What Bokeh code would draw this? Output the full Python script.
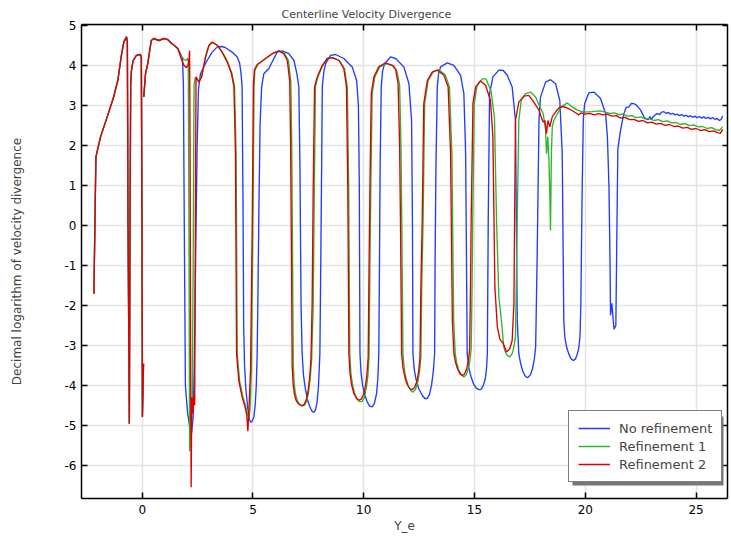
import numpy as np
from bokeh.plotting import figure
from bokeh.models import LinearAxis, FixedTicker, BoxAnnotation, Range1d
from bokeh.embed import file_html
from bokeh.resources import INLINE

# ---------------- data, (Y_e, log10 div) ----------------
nan = float("nan")

# part common to all three series
shared_pts = [(-2.18, -1.71), (-2.09, 1.71), (-1.88, 2.21), (-1.58, 2.71), (-1.31, 3.17),
              (-1.10, 3.62), (-0.95, 4.21), (-0.83, 4.58), (-0.71, 4.71), (-0.67, 4.60),
              (-0.64, 0.0), (-0.58, -4.96), (-0.55, 0.0), (-0.52, 3.50), (-0.49, 3.85),
              (-0.41, 4.12), (-0.26, 4.25), (-0.08, 4.27), (-0.04, 4.20), (-0.01, 0.0),
              (0.01, -4.79), (0.06, -3.46), (nan, nan), (0.07, 3.21), (0.15, 3.79),
              (0.25, 4.04), (0.33, 4.33), (0.41, 4.62), (0.52, 4.67), (0.75, 4.62),
              (0.98, 4.67), (1.16, 4.64), (1.35, 4.54), (1.61, 4.42)]

# No refinement
blue_pts = [(1.73, 4.29), (1.82, 4.15), (1.86, 3.5), (1.90, 0.0), (1.95, -4.0), (2.05, -4.7),
            (2.15, -5.05), (2.23, -5.2), (2.30, -4.8), (2.35, -3.5), (2.42, -0.5), (2.48, 2.0),
            (2.54, 3.4), (2.63, 3.79), (2.78, 3.96), (2.93, 4.12), (3.16, 4.33), (3.39, 4.46),
            (3.60, 4.47), (3.76, 4.44), (4.06, 4.33), (4.29, 4.21), (4.40, 4.05), (4.46, 3.8),
            (4.51, 3.46), (4.55, 0.6), (4.58, -2.5), (4.62, -3.5), (4.68, -4.1), (4.76, -4.55),
            (4.83, -4.82), (4.89, -4.92), (4.96, -4.9), (5.04, -4.79), (5.10, -4.5),
            (5.15, -4.0), (5.19, -3.21), (5.23, -1.5), (5.27, 0.5), (5.32, 2.5), (5.39, 3.46),
            (5.49, 3.79), (5.72, 3.92), (5.90, 4.12), (6.09, 4.33), (6.32, 4.36), (6.62, 4.29),
            (6.85, 4.12), (6.98, 3.8), (7.07, 3.46), (7.12, 1.5), (7.17, -2.0), (7.22, -3.21),
            (7.28, -3.75), (7.37, -4.1), (7.48, -4.4), (7.60, -4.58), (7.68, -4.66),
            (7.75, -4.68), (7.83, -4.6), (7.90, -4.4), (7.96, -4.0), (8.02, -3.21),
            (8.06, -1.0), (8.10, 1.5), (8.13, 3.46), (8.20, 3.85), (8.28, 4.04), (8.50, 4.25),
            (8.73, 4.27), (9.10, 4.17), (9.48, 3.96), (9.68, 3.62), (9.76, 3.0), (9.80, 1.0),
            (9.83, -3.21), (9.88, -3.7), (9.95, -4.0), (10.05, -4.25), (10.16, -4.42),
            (10.27, -4.52), (10.38, -4.54), (10.48, -4.45), (10.58, -4.21), (10.64, -3.8),
            (10.68, -3.21), (10.71, -1.0), (10.74, 1.5), (10.79, 3.46), (10.85, 3.85),
            (10.94, 4.04), (11.21, 4.21), (11.44, 4.17), (11.81, 3.96), (12.04, 3.54),
            (12.16, 2.62), (12.20, 0.0), (12.22, -3.21), (12.28, -3.6), (12.36, -3.85),
            (12.48, -4.08), (12.64, -4.25), (12.76, -4.33), (12.87, -4.33), (12.97, -4.22),
            (13.06, -4.0), (13.14, -3.65), (13.20, -3.21), (13.22, -1.0), (13.26, 1.5),
            (13.32, 3.46), (13.38, 3.8), (13.47, 3.96), (13.77, 4.06), (14.07, 4.0),
            (14.37, 3.75), (14.52, 3.29), (14.60, 1.79), (14.64, -1.0), (14.67, -3.21),
            (14.74, -3.55), (14.84, -3.78), (14.95, -3.96), (15.08, -4.07), (15.20, -4.11),
            (15.30, -4.10), (15.40, -4.0), (15.48, -3.85), (15.54, -3.6), (15.58, -3.21),
            (15.60, -1.5), (15.62, 0.13), (15.68, 3.29), (15.83, 3.71), (16.10, 3.88),
            (16.30, 3.87), (16.48, 3.75), (16.70, 3.46), (16.85, 2.62), (16.93, -2.38),
            (17.00, -3.21), (17.08, -3.45), (17.18, -3.65), (17.30, -3.78), (17.40, -3.81),
            (17.52, -3.74), (17.61, -3.6), (17.70, -3.35), (17.76, -3.04), (17.83, -0.71),
            (17.91, 2.62), (17.98, 3.21), (18.21, 3.58), (18.43, 3.64), (18.66, 3.54),
            (18.85, 3.12), (18.96, 1.79), (19.03, -2.38), (19.08, -2.8), (19.16, -3.05),
            (19.26, -3.22), (19.36, -3.34), (19.46, -3.38), (19.56, -3.34), (19.64, -3.22),
            (19.71, -3.05), (19.76, -2.8), (19.80, -2.0), (19.85, 0.5), (19.91, 2.62),
            (19.97, 3.04), (20.16, 3.31), (20.39, 3.33), (20.69, 3.17), (20.92, 2.79),
            (21.00, 2.2), (21.07, 0.96), (21.12, -1.0), (21.14, -2.25), (21.20, -1.95),
            (21.25, -2.3), (21.30, -2.6), (21.38, -2.5), (21.47, 1.9), (21.52, 2.1),
            (21.59, 2.37), (21.74, 2.79), (21.85, 2.95), (21.97, 2.96), (22.08, 3.05),
            (22.19, 3.04), (22.27, 3.02), (22.35, 2.98), (22.50, 2.88), (22.65, 2.71),
            (22.75, 2.66), (22.85, 2.64), (22.92, 2.72), (22.97, 2.64), (23.05, 2.70),
            (23.15, 2.76), (23.25, 2.79), (23.35, 2.77), (23.45, 2.83), (23.55, 2.84),
            (23.65, 2.80), (23.75, 2.82), (23.85, 2.78), (23.95, 2.80), (24.05, 2.76),
            (24.15, 2.78), (24.25, 2.74), (24.35, 2.77), (24.45, 2.73), (24.55, 2.75),
            (24.65, 2.71), (24.75, 2.74), (24.85, 2.70), (24.95, 2.73), (25.05, 2.69),
            (25.15, 2.72), (25.25, 2.68), (25.35, 2.71), (25.45, 2.67), (25.55, 2.70),
            (25.65, 2.66), (25.75, 2.69), (25.85, 2.65), (25.95, 2.67), (26.05, 2.62),
            (26.12, 2.64), (26.20, 2.73)]

# Refinement 1
green_pts = [(1.73, 4.25), (1.88, 4.15), (2.00, 4.12), (2.05, 4.18), (2.08, 4.10), (2.11, 0.0),
             (2.14, -5.65), (2.18, -5.0), (2.22, -4.6), (2.26, -4.4), (2.30, -1.0), (2.34, 3.5),
             (2.40, 3.70), (2.56, 3.60), (2.68, 3.72), (2.86, 4.20), (3.01, 4.48), (3.16, 4.57),
             (3.39, 4.50), (3.61, 4.33), (3.84, 4.10), (4.05, 3.80), (4.17, 3.46), (4.24, 1.79),
             (4.29, -3.21), (4.40, -3.90), (4.55, -4.30), (4.70, -4.60), (4.82, -4.85),
             (4.87, -4.60), (4.93, -3.62), (5.00, 0.13), (5.05, 3.50), (5.09, 3.88),
             (5.22, 4.02), (5.57, 4.17), (5.87, 4.29), (6.17, 4.36), (6.42, 4.30), (6.60, 4.12),
             (6.71, 3.60), (6.75, 2.0), (6.79, -1.0), (6.82, -3.5), (6.86, -3.95), (6.92, -4.22),
             (7.00, -4.38), (7.10, -4.47), (7.22, -4.52), (7.32, -4.50), (7.42, -4.40),
             (7.50, -4.20), (7.58, -3.85), (7.65, -3.35), (7.72, -2.0), (7.77, 0.96),
             (7.82, 3.46), (7.93, 3.71), (8.15, 4.00), (8.37, 4.17), (8.60, 4.19), (8.90, 4.12),
             (9.13, 3.92), (9.26, 3.46), (9.32, 0.96), (9.37, -3.21), (9.42, -3.70),
             (9.50, -4.00), (9.60, -4.22), (9.72, -4.36), (9.83, -4.41), (9.93, -4.40),
             (10.03, -4.30), (10.12, -4.06), (10.19, -3.75), (10.24, -3.30), (10.28, -1.0),
             (10.32, 0.96), (10.38, 3.29), (10.50, 3.71), (10.72, 3.96), (11.04, 4.04),
             (11.34, 3.98), (11.50, 3.85), (11.62, 3.50), (11.68, 2.0), (11.72, 0.0),
             (11.77, -3.21), (11.83, -3.60), (11.92, -3.85), (12.02, -4.03), (12.13, -4.14),
             (12.23, -4.17), (12.34, -4.10), (12.44, -3.92), (12.52, -3.65), (12.58, -3.30),
             (12.62, -1.5), (12.68, 0.13), (12.75, 3.04), (12.91, 3.62), (13.14, 3.84),
             (13.40, 3.89), (13.68, 3.76), (13.87, 3.46), (13.98, 1.79), (14.06, -2.38),
             (14.13, -3.21), (14.20, -3.45), (14.30, -3.63), (14.42, -3.75), (14.52, -3.79),
             (14.62, -3.74), (14.71, -3.60), (14.79, -3.40), (14.85, -3.10), (14.89, -1.5),
             (14.92, 0.13), (14.99, 3.04), (15.12, 3.50), (15.35, 3.66), (15.52, 3.66),
             (15.75, 3.35), (15.90, 2.70), (16.00, 0.0), (16.10, -1.80), (16.22, -2.40),
             (16.32, -3.04), (16.40, -3.18), (16.48, -3.25), (16.60, -3.29), (16.70, -3.20),
             (16.75, -3.12), (16.85, -2.79), (16.93, 0.13), (17.00, 2.62), (17.11, 3.12),
             (17.30, 3.29), (17.53, 3.33), (17.76, 3.21), (17.95, 2.96), (18.10, 2.79),
             (18.21, 2.38), (18.25, 1.79), (18.31, 2.21), (18.36, 1.60), (18.40, 0.79),
             (18.43, -0.13), (18.47, 1.79), (18.51, 2.46), (18.58, 2.62), (18.74, 2.79),
             (18.92, 2.96), (19.19, 3.06), (19.41, 2.96), (19.64, 2.88), (19.94, 2.83),
             (20.30, 2.84), (20.69, 2.86), (20.90, 2.83), (21.10, 2.80), (21.30, 2.81),
             (21.50, 2.77), (21.70, 2.78), (21.90, 2.73), (22.10, 2.74), (22.30, 2.69),
             (22.50, 2.71), (22.70, 2.66), (22.90, 2.67), (23.10, 2.62), (23.30, 2.64),
             (23.50, 2.59), (23.70, 2.61), (23.90, 2.56), (24.10, 2.57), (24.30, 2.52),
             (24.50, 2.54), (24.70, 2.49), (24.90, 2.51), (25.10, 2.46), (25.30, 2.47),
             (25.50, 2.42), (25.70, 2.44), (25.90, 2.39), (26.05, 2.37), (26.20, 2.46)]

# Refinement 2
red_pts = [(1.73, 4.21), (1.88, 4.00), (2.00, 3.94), (2.08, 4.02), (2.12, 4.20), (2.14, 4.37),
           (2.16, 2.0), (2.19, -4.0), (2.21, -6.55), (2.23, -5.0), (2.25, -4.3), (2.29, -4.7),
           (2.33, -4.25), (2.37, -4.5), (2.40, 0.0), (2.43, 3.71), (2.56, 3.58), (2.68, 3.71),
           (2.86, 4.21), (3.01, 4.50), (3.16, 4.58), (3.39, 4.50), (3.61, 4.33), (3.84, 4.08),
           (4.03, 3.79), (4.14, 3.46), (4.21, 1.79), (4.26, -3.21), (4.36, -3.88),
           (4.51, -4.29), (4.65, -4.55), (4.72, -4.75), (4.77, -5.15), (4.81, -4.71),
           (4.89, -3.62), (4.97, 0.13), (5.02, 3.50), (5.06, 3.88), (5.19, 4.02), (5.40, 4.10),
           (5.57, 4.17), (5.87, 4.29), (6.17, 4.36), (6.39, 4.29), (6.55, 4.12), (6.66, 3.60),
           (6.70, 2.0), (6.74, -1.0), (6.77, -3.5), (6.81, -3.95), (6.87, -4.22), (6.95, -4.38),
           (7.05, -4.46), (7.15, -4.50), (7.25, -4.50), (7.33, -4.46), (7.42, -4.33),
           (7.50, -4.10), (7.57, -3.75), (7.62, -3.30), (7.67, -2.0), (7.72, 0.96),
           (7.78, 3.46), (7.90, 3.71), (8.13, 4.00), (8.35, 4.17), (8.58, 4.19), (8.88, 4.12),
           (9.10, 3.92), (9.22, 3.46), (9.28, 0.96), (9.33, -3.21), (9.38, -3.70),
           (9.45, -3.98), (9.55, -4.20), (9.68, -4.33), (9.78, -4.37), (9.88, -4.35),
           (9.98, -4.25), (10.07, -4.04), (10.14, -3.75), (10.20, -3.30), (10.24, -1.0),
           (10.28, 0.96), (10.34, 3.29), (10.46, 3.71), (10.68, 3.96), (10.98, 4.06),
           (11.29, 4.00), (11.44, 3.90), (11.55, 3.55), (11.62, 2.0), (11.66, 0.0),
           (11.71, -3.21), (11.77, -3.55), (11.86, -3.80), (11.96, -3.98), (12.08, -4.08),
           (12.19, -4.11), (12.30, -4.05), (12.40, -3.90), (12.48, -3.65), (12.54, -3.30),
           (12.58, -1.5), (12.64, 0.13), (12.71, 3.04), (12.87, 3.62), (13.09, 3.83),
           (13.32, 3.88), (13.62, 3.75), (13.81, 3.46), (13.92, 1.79), (14.00, -2.38),
           (14.07, -3.21), (14.14, -3.42), (14.24, -3.60), (14.35, -3.72), (14.45, -3.75),
           (14.55, -3.72), (14.64, -3.60), (14.72, -3.40), (14.78, -3.10), (14.82, -1.5),
           (14.85, 0.13), (14.93, 3.04), (15.05, 3.46), (15.27, 3.61), (15.50, 3.50),
           (15.72, 3.12), (15.83, 2.21), (15.92, -1.54), (16.03, -2.54), (16.15, -2.85),
           (16.30, -2.96), (16.45, -3.17), (16.60, -3.08), (16.70, -2.88), (16.78, -1.96),
           (16.81, 0.13), (16.85, 2.62), (17.00, 3.08), (17.23, 3.23), (17.45, 3.25),
           (17.68, 3.08), (17.91, 2.88), (18.01, 2.71), (18.10, 2.58), (18.18, 2.62),
           (18.25, 2.29), (18.31, 2.62), (18.40, 2.46), (18.51, 2.71), (18.61, 2.79),
           (18.74, 2.89), (18.85, 2.95), (19.00, 2.97), (19.20, 2.93), (19.40, 2.87),
           (19.60, 2.80), (19.70, 2.76), (19.80, 2.81), (20.00, 2.78), (20.20, 2.80),
           (20.40, 2.76), (20.60, 2.79), (20.80, 2.76), (21.00, 2.78), (21.20, 2.73),
           (21.40, 2.74), (21.60, 2.68), (21.80, 2.70), (22.00, 2.64), (22.20, 2.65),
           (22.40, 2.60), (22.60, 2.62), (22.80, 2.56), (23.00, 2.58), (23.20, 2.53),
           (23.40, 2.55), (23.60, 2.50), (23.80, 2.52), (24.00, 2.47), (24.20, 2.48),
           (24.40, 2.43), (24.60, 2.45), (24.80, 2.40), (25.00, 2.42), (25.20, 2.37),
           (25.40, 2.39), (25.60, 2.34), (25.80, 2.36), (26.00, 2.31), (26.10, 2.30),
           (26.20, 2.40)]

series_names = ["No refinement", "Refinement 1", "Refinement 2"]
series_colors = ["#1f3cff", "#2cb62c", "#dd0000"]
x_ticks = [0, 5, 10, 15, 20, 25]
x_tick_labels = ["0", "5", "10", "15", "20", "25"]
y_ticks = [-6, -5, -4, -3, -2, -1, 0, 1, 2, 3, 4, 5]
y_tick_labels = ["-6", "-5", "-4", "-3", "-2", "-1", "0", "1", "2", "3", "4", "5"]

# ---------------- figure ----------------
X0, X1 = -2.74, 26.42
Y0, Y1 = -6.83, 5.02
FL, FR, FT, FB = 81, 727, 24, 498   # frame edges in pixels

p = figure(width=731, height=539, output_backend="svg", toolbar_location=None,
           x_range=Range1d(X0, X1), y_range=Range1d(Y0, Y1),
           min_border_left=FL, min_border_right=731 - FR, min_border_top=FT,
           min_border_bottom=539 - FB)

FONT = "DejaVu Sans"
p.title.text = "Centerline Velocity Divergence"
p.title.text_font = FONT
p.title.text_font_size = "11px"
p.title.text_font_style = "normal"
p.title.align = "left"
p.title.offset = 200
p.title.standoff = 8

for ax, ticks, labels in ((p.xaxis[0], x_ticks, x_tick_labels),
                          (p.yaxis[0], y_ticks, y_tick_labels)):
    ax.ticker = FixedTicker(ticks=ticks)
    ax.major_label_overrides = dict(zip(ticks, labels))
    ax.major_label_text_font = FONT
    ax.major_label_text_font_size = "12px"
    ax.major_label_text_color = "#000000"
    ax.axis_label_text_font = FONT
    ax.axis_label_text_font_size = "12px"
    ax.axis_label_text_font_style = "normal"
    ax.axis_line_width = 1.5
    ax.axis_line_color = "#000000"
    ax.major_tick_in = 6
    ax.major_tick_out = 0
    ax.major_tick_line_color = "#000000"
    ax.major_tick_line_width = 1.5
    ax.minor_tick_line_color = None

p.xaxis.axis_label = "Y_e"
p.xaxis.major_label_standoff = 6
p.xaxis.axis_label_standoff = 2
p.yaxis.axis_label = "Decimal logarithm of velocity divergence"
p.yaxis.major_label_standoff = 5
p.yaxis.axis_label_standoff = 38

# frame axes on top and right: ticks only, no labels drawn
top_ax = LinearAxis(ticker=FixedTicker(ticks=x_ticks), major_label_text_color=None,
                    major_label_text_font_size="1px", major_label_standoff=0,
                    major_tick_in=6, major_tick_out=0, axis_line_width=1.5,
                    major_tick_line_width=1.5, minor_tick_line_color=None)
right_ax = LinearAxis(ticker=FixedTicker(ticks=y_ticks), major_label_text_color=None,
                      major_label_text_font_size="1px", major_label_standoff=0,
                      major_tick_in=5, major_tick_out=0, axis_line_width=1.5,
                      major_tick_line_width=1.5, minor_tick_line_color=None)
p.add_layout(top_ax, "above")
p.add_layout(right_ax, "right")

p.xgrid.grid_line_color = "#e3e3e3"
p.ygrid.grid_line_color = "#e3e3e3"
p.xgrid.grid_line_width = 1.5
p.ygrid.grid_line_width = 1.5
p.outline_line_color = None

# legend shadow (pixel box converted to data units)
def px2x(px):
    return X0 + (px - FL) * (X1 - X0) / (FR - FL)

def px2y(py):
    return Y1 - (py - FT) * (Y1 - Y0) / (FB - FT)

shadow = BoxAnnotation(left=px2x(572), right=px2x(723), top=px2y(416), bottom=px2y(485),
                       fill_color="#777777", fill_alpha=1.0, line_color=None)
p.add_layout(shadow)

for pts, name, col in zip((blue_pts, green_pts, red_pts), series_names, series_colors):
    pts_all = shared_pts + pts
    xs = np.array([a for a, b in pts_all], dtype=float)
    ys = np.array([b for a, b in pts_all], dtype=float)
    p.line(xs, ys, line_color=col, line_width=1.35, legend_label=name)

lg = p.legend[0]
lg.location = (568 - FL, FB - 482)
lg.border_line_color = "#000000"
lg.border_line_width = 1.5
lg.background_fill_color = "#ffffff"
lg.background_fill_alpha = 1.0
lg.label_text_font = FONT
lg.label_text_font_size = "13px"
lg.glyph_width = 32
lg.glyph_height = 16
lg.label_height = 16
lg.label_width = 93
lg.label_standoff = 9
lg.padding = 9
lg.spacing = 2
lg.margin = 0

open("out.html", "w").write(file_html(p, INLINE))
